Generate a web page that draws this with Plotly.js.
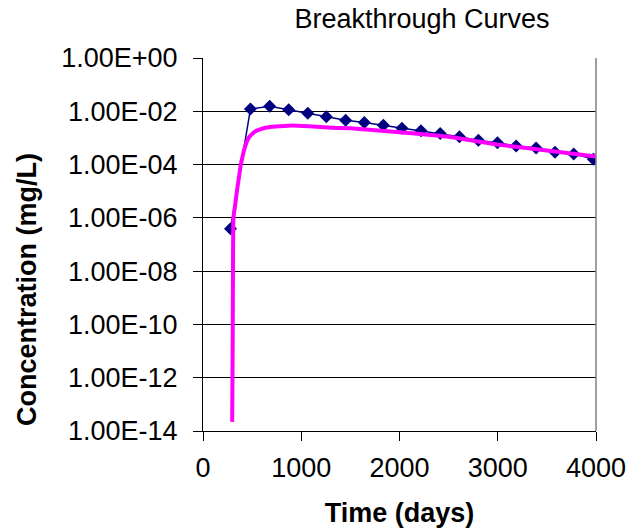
<!DOCTYPE html>
<html>
<head>
<meta charset="utf-8">
<script src="https://cdn.plot.ly/plotly-3.0.1.min.js"></script>
<style>html,body{margin:0;padding:0;background:#fff;}#chart{width:628px;height:531px;}</style>
</head>
<body>
<div id="chart"></div>
<script>
// Measured series (days, mg/L)
var measuredTime = [280, 483, 679, 872, 1066, 1255, 1452, 1642, 1835, 2025, 2218, 2414, 2610, 2803, 2997, 3187, 3390, 3583, 3773, 3973];
var measuredConc = [3.9e-7, 1.23e-2, 1.55e-2, 1.15e-2, 8.5e-3, 6.2e-3, 4.6e-3, 3.8e-3, 3.0e-3, 2.3e-3, 1.86e-3, 1.48e-3, 1.1e-3, 8.1e-4, 6.6e-4, 5.0e-4, 4.2e-4, 2.9e-4, 2.5e-4, 1.6e-4];

// Model curve (days, mg/L)
var modelTime = [297, 300, 303, 305, 310, 328, 345, 365, 385, 400, 415, 440, 466, 500, 534, 580, 636, 700, 771, 907, 1076, 1314, 1500, 2000, 2500, 3000, 3500, 4000];
var modelConc = [2.2e-14, 1e-12, 1e-10, 1e-8, 1e-6, 3.2e-6, 1e-5, 3.2e-5, 1e-4, 1.8e-4, 3.2e-4, 6.3e-4, 1.02e-3, 1.41e-3, 1.78e-3, 2.1e-3, 2.4e-3, 2.63e-3, 2.75e-3, 2.95e-3, 2.75e-3, 2.4e-3, 2.29e-3, 1.62e-3, 1.1e-3, 5.6e-4, 3.4e-4, 2.0e-4];

// Tick labels
var xTickVals = [0, 1000, 2000, 3000, 4000];
var xTickText = ['0', '1000', '2000', '3000', '4000'];
var yTickVals = [1, 1e-2, 1e-4, 1e-6, 1e-8, 1e-10, 1e-12, 1e-14];
var yTickText = ['1.00E+00', '1.00E-02', '1.00E-04', '1.00E-06', '1.00E-08', '1.00E-10', '1.00E-12', '1.00E-14'];

var traces = [
  {
    x: measuredTime, y: measuredConc, type: 'scatter', mode: 'lines+markers',
    name: 'Measured',
    line: {color: '#000080', width: 1.5},
    marker: {symbol: 'diamond', size: 10, color: '#000080'}
  },
  {
    x: modelTime, y: modelConc, type: 'scatter', mode: 'lines',
    name: 'Model',
    line: {color: '#FF00FF', width: 4, shape: 'spline', smoothing: 0.4}
  }
];

var layout = {
  width: 628, height: 531,
  margin: {l: 203, r: 32, t: 58, b: 100},
  paper_bgcolor: '#ffffff', plot_bgcolor: '#ffffff',
  showlegend: false,
  font: {family: 'Liberation Sans, Arial, sans-serif', color: '#000'},
  title: {
    text: 'Breakthrough Curves',
    font: {size: 27, color: '#000'},
    x: 422 / 628, xref: 'container', xanchor: 'center',
    y: 1 - 19 / 531, yref: 'container', yanchor: 'middle'
  },
  xaxis: {
    range: [0, 4000],
    tickvals: xTickVals, ticktext: xTickText,
    tickfont: {size: 27, color: '#000'},
    ticks: 'outside', ticklen: 9, tickcolor: '#000', tickwidth: 1,
    showline: true, linecolor: '#000', linewidth: 1,
    showgrid: false, zeroline: false,
    ticklabelstandoff: 4,
    title: {text: '<b>Time (days)</b>', font: {size: 27, color: '#000'}, standoff: 20}
  },
  yaxis: {
    type: 'log', range: [-14, 0],
    tickvals: yTickVals, ticktext: yTickText,
    tickfont: {size: 27, color: '#000'},
    ticks: 'outside', ticklen: 9, tickcolor: '#000', tickwidth: 1,
    showline: true, linecolor: '#000', linewidth: 1,
    showgrid: true, gridcolor: '#000', gridwidth: 1,
    zeroline: false,
    ticklabelstandoff: 10
  },
  annotations: [
    {text: '<b>Concentration (mg/L)</b>', textangle: -90,
     xref: 'paper', yref: 'paper', x: (27 - 203) / 393, y: (431 - 290) / 373,
     xanchor: 'center', yanchor: 'middle', showarrow: false,
     font: {size: 27, color: '#000'}}
  ],
  shapes: [
    {type: 'line', xref: 'paper', yref: 'paper', x0: 1, x1: 1, y0: 0, y1: 1,
     line: {color: '#808080', width: 1.5}}
  ]
};

Plotly.newPlot('chart', traces, layout, {displayModeBar: false, staticPlot: true});
</script>
</body>
</html>
